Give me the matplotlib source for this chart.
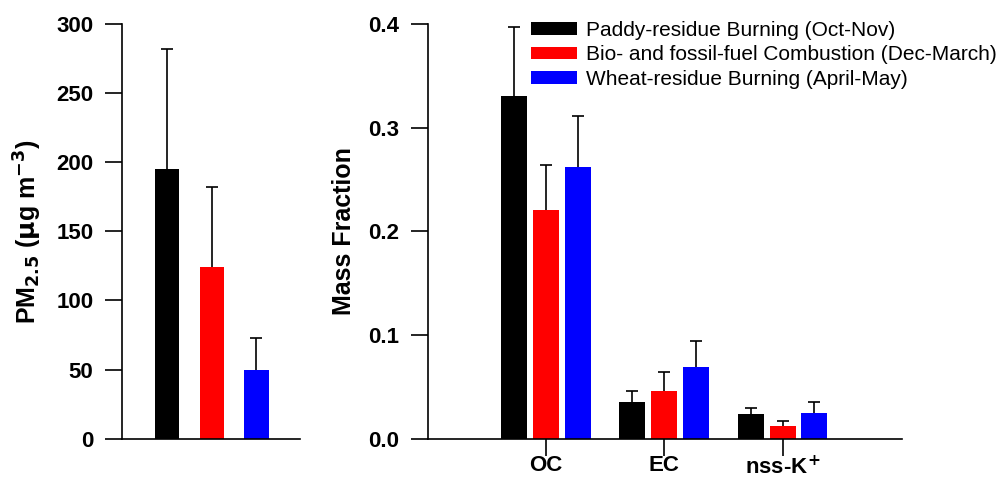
import numpy as np
import matplotlib.pyplot as plt

plt.rcParams['font.family'] = ['Liberation Sans', 'DejaVu Sans']

# Seasons (same order in both panels)
seasons = ["Paddy-residue Burning (Oct-Nov)",
           "Bio- and fossil-fuel Combustion (Dec-March)",
           "Wheat-residue Burning (April-May)"]
colors = ["#000000", "#ff0000", "#0000ff"]

# PM2.5 mass concentration (ug m-3), mean and SD
pm25_mean = [195, 124, 50]
pm25_sd = [87, 58, 23]

# Mass fractions of OC, EC and nss-K+, mean and SD per season
species = ["OC", "EC", r"nss-K$^{\mathbf{+}}$"]
frac_mean = [[0.331, 0.035, 0.024],
             [0.221, 0.046, 0.012],
             [0.262, 0.069, 0.025]]
frac_sd = [[0.066, 0.011, 0.006],
           [0.043, 0.018, 0.005],
           [0.049, 0.025, 0.010]]

fig = plt.figure(figsize=(10.08, 4.78), dpi=100)
ax1 = fig.add_axes([0.121, 0.0822, 0.1766, 0.8676])
ax2 = fig.add_axes([0.4243, 0.0822, 0.4706, 0.8676])

# symmetric error bars drawn under the bars, so only the upper half shows
err_kw = dict(ecolor="black", elinewidth=1.2, capsize=4, capthick=1.2, zorder=1)

# left panel: PM2.5
x1 = np.arange(3)
for i in range(3):
    ax1.bar(x1[i], pm25_mean[i], width=0.54, color=colors[i], zorder=2)
    ax1.errorbar(x1[i], pm25_mean[i], yerr=pm25_sd[i], fmt="none", **err_kw)
ax1.set_xlim(-1.0, 2.97)
ax1.set_ylim(0, 300)
ax1.set_yticks(np.arange(0, 301, 50))
ax1.set_xticks([])
ax1.set_ylabel(r"PM$_{\mathbf{2.5}}$ ($\mathbf{\mu}$g m$^{\mathbf{-3}}$)",
               fontsize=18, fontweight="bold", labelpad=9)

# right panel: mass fractions
x2 = np.arange(3)
offsets = [-0.269, 0.0, 0.269]
for i in range(3):
    ax2.bar(x2 + offsets[i], frac_mean[i], width=0.22, color=colors[i],
            label=seasons[i], zorder=2)
    ax2.errorbar(x2 + offsets[i], frac_mean[i], yerr=frac_sd[i], fmt="none", **err_kw)
ax2.set_xlim(-1.0, 3.01)
ax2.set_ylim(0, 0.4)
ax2.set_yticks([0.0, 0.1, 0.2, 0.3, 0.4])
ax2.set_yticklabels(["0.0", "0.1", "0.2", "0.3", "0.4"])
ax2.set_xticks(x2)
ax2.set_xticklabels(species)
ax2.set_ylabel("Mass Fraction", fontsize=18, fontweight="bold", labelpad=9)

for ax in (ax1, ax2):
    for side in ("top", "right"):
        ax.spines[side].set_visible(False)
    ax.spines["left"].set_linewidth(1.2)
    ax.spines["bottom"].set_linewidth(1.2)
    ax.tick_params(axis="both", direction="out", length=12.5, width=1.2,
                   labelsize=16)
    ax.tick_params(axis="y", pad=8)
    ax.tick_params(axis="x", length=12, pad=0)
    for lab in ax.get_xticklabels() + ax.get_yticklabels():
        lab.set_fontweight("bold")

ax2.legend(loc="upper left", bbox_to_anchor=(0.527, 0.957),
           bbox_transform=fig.transFigure, frameon=False, fontsize=15,
           handlelength=2.2, handleheight=0.57, handletextpad=0.45,
           labelspacing=0.28, borderaxespad=0, borderpad=0)

fig.savefig("out.png", dpi=100)
